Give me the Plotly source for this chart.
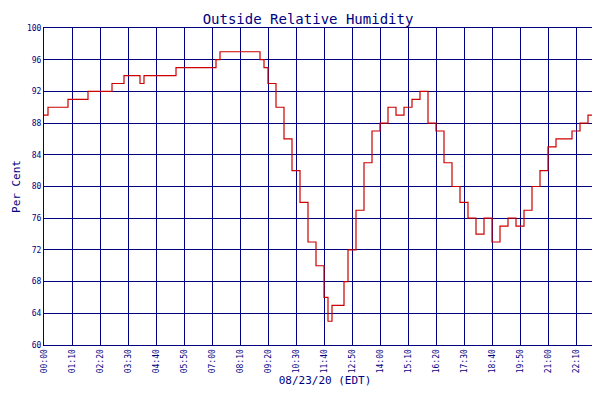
import plotly.graph_objects as go

times = ["00:00", "00:10", "00:40", "01:00", "01:50", "02:50", "03:20", "04:00", "04:10", "05:00", "05:30",
         "06:30", "07:10", "07:20", "08:20", "08:40", "09:00", "09:10", "09:20", "09:40", "10:00",
         "10:20", "10:40", "11:00", "11:20", "11:40", "11:50", "12:00", "12:20", "12:30", "12:40",
         "13:00", "13:20", "13:40", "14:00", "14:20", "14:40", "15:00", "15:20", "15:40", "15:50",
         "16:00", "16:20", "16:40", "17:00", "17:20", "17:40", "18:00", "18:20", "18:40", "19:00",
         "19:20", "19:40", "20:00", "20:20", "20:40", "21:00", "21:20", "21:40", "22:00", "22:20",
         "22:40", "23:00", "23:20", "23:25"]
humidity = [89, 90, 90, 91, 92, 93, 94, 93, 94, 94, 95,
            95, 96, 97, 97, 97, 96, 95, 93, 90, 86,
            82, 78, 73, 70, 66, 63, 65, 65, 68, 72,
            77, 83, 87, 88, 90, 89, 90, 91, 92, 92,
            88, 87, 83, 80, 78, 76, 74, 76, 73, 75,
            76, 75, 77, 80, 82, 85, 86, 86, 87, 88,
            89, 91, 92, 92]
tick_labels = ["00:00", "01:10", "02:20", "03:30", "04:40", "05:50", "07:00", "08:10", "09:20", "10:30",
               "11:40", "12:50", "14:00", "15:10", "16:20", "17:30", "18:40", "19:50", "21:00", "22:10", "23:20"]


def to_min(t):
    h, m = t.split(":")
    return int(h) * 60 + int(m)


x = [to_min(t) for t in times]
navy = "#000080"

fig = go.Figure(go.Scatter(x=x, y=humidity, mode="lines", line=dict(color="#cc0000", width=1.2, shape="hv"),
                           name="Relative Humidity"))
fig.update_layout(
    width=600, height=400, margin=dict(l=36, r=2, t=20, b=63, autoexpand=False),
    paper_bgcolor="white", plot_bgcolor="white",
    font=dict(family="DejaVu Sans Mono", color=navy, size=8),
    title=dict(text="Outside Relative Humidity", x=0.5, y=0.985, font=dict(size=14, color=navy), automargin=False),
    showlegend=True,
    legend=dict(orientation="h", x=0.5, xanchor="center", y=-0.27, yanchor="top", font=dict(size=8)),
)
fig.update_xaxes(range=[0, 1405], tickvals=[to_min(t) for t in tick_labels], ticktext=tick_labels,
                 tickangle=-90, showgrid=True, gridcolor=navy, gridwidth=1, showline=True, linecolor=navy,
                 mirror=True, zeroline=False, automargin=False,
                 title=dict(text="08/23/20 (EDT)", font=dict(size=11), standoff=4))
fig.update_yaxes(range=[60, 100], dtick=4, showgrid=True, gridcolor=navy, gridwidth=1, showline=True,
                 linecolor=navy, mirror=True, zeroline=False, automargin=False,
                 title=dict(text="Per Cent", font=dict(size=11), standoff=4))
fig.write_html("out.html")
